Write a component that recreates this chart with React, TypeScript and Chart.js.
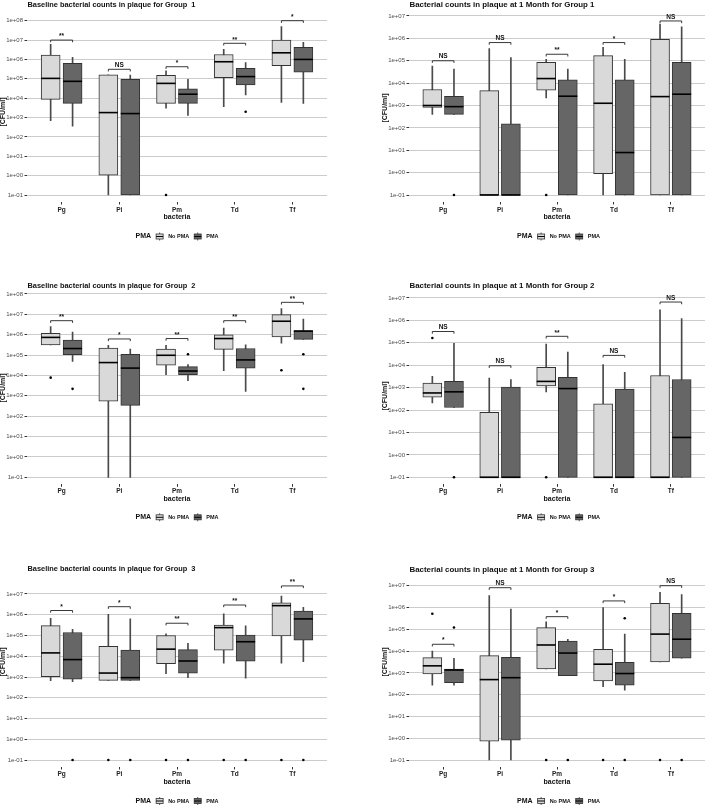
import { useEffect, useRef } from "react";
import { Chart, registerables } from "chart.js";

Chart.register(...registerables);

const FONT = '"Liberation Sans", Arial, Helvetica, sans-serif';

// ---------- shared labels ----------
const bacteria = ["Pg", "Pi", "Pm", "Td", "Tf"];
const groupLabels = ["No PMA", "PMA"];
const legendTitle = "PMA";
const xAxisTitle = "bacteria";
const yAxisTitle = "[CFU/ml]";
const ticksTo1e8 = ["1e-01", "1e+00", "1e+01", "1e+02", "1e+03", "1e+04", "1e+05", "1e+06", "1e+07", "1e+08"];
const ticksTo1e7 = ["1e-01", "1e+00", "1e+01", "1e+02", "1e+03", "1e+04", "1e+05", "1e+06", "1e+07"];

// ---------- data: [min, q1, median, q3, max] per bacterium ----------
// Group 1 baseline
const g1BaseNoPma = [
  [6.9e2, 8.7e3, 1.05e5, 1.7e6, 6.0e6],
  [0.1, 1.07, 1.8e3, 1.6e5, 1.6e5],
  [3.0e3, 5.4e3, 5.8e4, 1.5e5, 2.6e5],
  [3.6e3, 1.15e5, 7.6e5, 1.8e6, 3.3e6],
  [6.0e3, 4.8e5, 2.2e6, 1.0e7, 4.9e7],
];
const g1BasePma = [
  [3.6e2, 5.4e3, 7.4e4, 6.3e5, 1.3e6],
  [0.1, 0.1, 1.6e3, 9.3e4, 1.55e5],
  [1.3e3, 5.4e3, 1.6e4, 3.0e4, 9.3e4],
  [1.45e4, 4.8e4, 1.3e5, 3.5e5, 6.8e5],
  [5.4e3, 2.2e5, 1.0e6, 4.2e6, 7.6e6],
];
const g1BaseOutNoPma = [[2, 0.1]];
const g1BaseOutPma = [[3, 2.0e3]];
const g1BaseSig = ["**", "NS", "*", "**", "*"];
const g1BaseBracket = [1e7, 3.1e5, 4.2e5, 6.8e6, 1e8];

// Group 1 at 1 month
const g1MonthNoPma = [
  [4.0e2, 8.3e2, 1.0e3, 5.2e3, 5.8e4],
  [0.1, 0.1, 0.1, 4.6e3, 3.5e5],
  [2.2e3, 4.9e3, 1.6e4, 8.5e4, 1.15e5],
  [0.1, 0.89, 1.26e3, 1.7e5, 4.0e5],
  [0.1, 0.1, 2.5e3, 9.1e5, 4.4e6],
];
const g1MonthPma = [
  [4.0e2, 4.0e2, 8.9e2, 2.6e3, 4.2e4],
  [0.1, 0.1, 0.1, 1.5e2, 1.4e5],
  [0.1, 0.1, 2.6e3, 1.4e4, 4.2e4],
  [0.1, 0.1, 7.9, 1.4e4, 1.15e5],
  [0.1, 0.1, 3.2e3, 8.5e4, 3.3e6],
];
const g1MonthOutNoPma = [[2, 0.1]];
const g1MonthOutPma = [[0, 0.1]];
const g1MonthSig = ["NS", "NS", "**", "*", "NS"];
const g1MonthBracket = [1e5, 6.5e5, 1.95e5, 6.5e5, 6.0e6];

// Group 2 baseline
const g2BaseNoPma = [
  [3.2e5, 3.2e5, 7.4e5, 1.17e6, 2.5e6],
  [0.1, 5.4e2, 4.3e4, 2.2e5, 3.0e5],
  [1.1e4, 3.2e4, 9.8e4, 2.0e5, 3.0e5],
  [1.7e4, 1.9e5, 6.5e5, 1.0e6, 2.1e6],
  [3.8e5, 7.8e5, 4.6e6, 9.8e6, 1.9e7],
];
const g2BasePma = [
  [4.9e4, 1.05e5, 2.1e5, 5.5e5, 1.35e6],
  [0.1, 3.4e2, 2.3e4, 1.1e5, 2.0e5],
  [5.5e3, 1.1e4, 1.65e4, 2.7e4, 3.4e4],
  [1.65e3, 2.3e4, 5.8e4, 2.1e5, 3.2e5],
  [5.9e5, 5.9e5, 1.5e6, 1.6e6, 5.9e6],
];
const g2BaseOutNoPma = [[0, 7.8e3], [4, 1.8e4]];
const g2BaseOutPma = [[0, 2.2e3], [2, 1.1e5], [4, 1.1e5], [4, 2.2e3]];
const g2BaseSig = ["**", "*", "**", "**", "**"];
const g2BaseBracket = [4.9e6, 6.2e5, 6.5e5, 4.9e6, 3.9e7];

// Group 2 at 1 month
const g2MonthNoPma = [
  [2.1e2, 3.8e2, 5.8e2, 1.6e3, 3.2e3],
  [0.1, 0.1, 0.1, 79, 2.7e3],
  [6.5e2, 1.2e3, 1.9e3, 8.1e3, 8.9e4],
  [0.1, 0.1, 0.1, 1.9e2, 1.07e4],
  [0.1, 0.1, 0.1, 3.5e3, 3.0e6],
];
const g2MonthPma = [
  [1.3e2, 1.3e2, 6.5e2, 1.9e3, 9.5e4],
  [0.1, 0.1, 0.1, 1.07e3, 2.3e3],
  [0.1, 0.1, 9.1e2, 2.9e3, 3.9e4],
  [0.1, 0.1, 0.1, 8.7e2, 4.8e3],
  [0.1, 0.1, 6.0, 2.3e3, 1.2e6],
];
const g2MonthOutNoPma = [[0, 1.65e5], [2, 0.1]];
const g2MonthOutPma = [[0, 0.1]];
const g2MonthSig = ["NS", "NS", "**", "NS", "NS"];
const g2MonthBracket = [3.2e5, 9.5e3, 1.95e5, 2.75e4, 6.6e6];

// Group 3 baseline
const g3BaseNoPma = [
  [6.6e2, 1.05e3, 1.45e4, 3.0e5, 6.8e5],
  [6.9e2, 6.9e2, 1.55e3, 3.0e4, 1.05e6],
  [1.45e3, 4.4e3, 2.2e4, 1.0e5, 1.2e5],
  [4.7e3, 1.95e4, 2.4e5, 3.2e5, 1.1e6],
  [4.6e3, 9.5e4, 2.75e6, 3.8e6, 7.9e6],
];
const g3BasePma = [
  [6.0e2, 7.8e2, 6.9e3, 1.4e5, 2.0e5],
  [6.9e2, 6.9e2, 9.3e2, 2.0e4, 6.3e5],
  [9.3e2, 1.55e3, 5.9e3, 2.1e4, 4.2e4],
  [8.7e2, 5.8e3, 5.0e4, 1.05e5, 2.9e5],
  [5.5e3, 6.0e4, 6.3e5, 1.5e6, 2.3e6],
];
const g3BaseOutNoPma = [[1, 0.1], [2, 0.1], [3, 0.1], [4, 0.1]];
const g3BaseOutPma = [[0, 0.1], [1, 0.1], [2, 0.1], [3, 0.1], [4, 0.1]];
const g3BaseSig = ["*", "*", "**", "**", "**"];
const g3BaseBracket = [1.6e6, 2.45e6, 3.9e5, 2.95e6, 2.45e7];

// Group 3 at 1 month
const g3MonthNoPma = [
  [2.75e2, 8.9e2, 2.1e3, 5.0e3, 1.0e4],
  [0.1, 0.74, 4.9e2, 6.2e3, 3.5e6],
  [1.5e3, 1.5e3, 1.9e4, 1.2e5, 2.2e5],
  [2.3e2, 4.3e2, 2.5e3, 1.2e4, 9.8e5],
  [3.2e3, 3.2e3, 6.0e4, 1.55e6, 4.9e6],
];
const g3MonthPma = [
  [2.75e2, 3.5e2, 1.35e3, 1.5e3, 4.7e3],
  [0.1, 0.81, 6.0e2, 5.1e3, 8.5e5],
  [7.4e2, 7.4e2, 8.1e3, 2.9e4, 3.5e4],
  [1.6e2, 2.75e2, 9.3e2, 3.0e3, 6.0e4],
  [4.7e3, 4.7e3, 3.5e4, 5.4e5, 3.9e6],
];
const g3MonthOutNoPma = [[0, 5.2e5], [2, 0.1], [3, 0.1], [4, 0.1]];
const g3MonthOutPma = [[0, 1.2e5], [2, 0.1], [3, 3.2e5], [3, 0.1], [4, 0.1]];
const g3MonthSig = ["*", "NS", "*", "*", "NS"];
const g3MonthBracket = [2.05e4, 8.1e6, 3.8e5, 2.0e6, 1.0e7];

// ---------- panel layout (page pixels) ----------
type Layout = {
  left: number; top: number; width: number; height: number;
  plotLeft: number; plotRight: number; pxTop: number; pxBot: number;
  titleY: number; labelY: number; axisTitleY: number; legendY: number;
  yTitleX: number; yTitleY: number; titleSize: number;
};
type PanelDef = {
  title: string;
  noPma: number[][]; pma: number[][];
  outNoPma: number[][]; outPma: number[][];
  sig: string[]; bracket: number[]; ticks: string[];
  layout: Layout;
};

const L_ROW = (top: number, height: number, pxTop: number, pxBot: number, titleY: number, labelY: number, axisTitleY: number, legendY: number, yTitleY: number, right: boolean): Layout => ({
  left: right ? 355 : 0, top, width: right ? 354 : 352, height,
  plotLeft: right ? 409 : 27, plotRight: right ? 708 : 327,
  pxTop, pxBot, titleY, labelY, axisTitleY, legendY, yTitleY,
  yTitleX: right ? 385.5 : 3.5, titleSize: right ? 7.9 : 7.4,
});

const panels: PanelDef[] = [
  { title: "Baseline bacterial counts in plaque for Group  1", noPma: g1BaseNoPma, pma: g1BasePma, outNoPma: g1BaseOutNoPma, outPma: g1BaseOutPma, sig: g1BaseSig, bracket: g1BaseBracket, ticks: ticksTo1e8,
    layout: L_ROW(0, 262, 20.7, 195, 5, 210, 217.5, 236.5, 112, false) },
  { title: "Bacterial counts in plaque at 1 Month for Group 1", noPma: g1MonthNoPma, pma: g1MonthPma, outNoPma: g1MonthOutNoPma, outPma: g1MonthOutPma, sig: g1MonthSig, bracket: g1MonthBracket, ticks: ticksTo1e7,
    layout: L_ROW(0, 262, 16, 195, 5, 210, 217.5, 236.5, 108, true) },
  { title: "Baseline bacterial counts in plaque for Group  2", noPma: g2BaseNoPma, pma: g2BasePma, outNoPma: g2BaseOutNoPma, outPma: g2BaseOutPma, sig: g2BaseSig, bracket: g2BaseBracket, ticks: ticksTo1e8,
    layout: L_ROW(262, 268, 294, 477.3, 286, 491, 498.7, 517.3, 388, false) },
  { title: "Bacterial counts in plaque at 1 Month for Group 2", noPma: g2MonthNoPma, pma: g2MonthPma, outNoPma: g2MonthOutNoPma, outPma: g2MonthOutPma, sig: g2MonthSig, bracket: g2MonthBracket, ticks: ticksTo1e7,
    layout: L_ROW(262, 268, 298, 477.3, 286, 491, 498.7, 517.3, 396, true) },
  { title: "Baseline bacterial counts in plaque for Group  3", noPma: g3BaseNoPma, pma: g3BasePma, outNoPma: g3BaseOutNoPma, outPma: g3BaseOutPma, sig: g3BaseSig, bracket: g3BaseBracket, ticks: ticksTo1e7,
    layout: L_ROW(530, 276, 594, 760, 568.5, 774.3, 782.3, 801, 662, false) },
  { title: "Bacterial counts in plaque at 1 Month for Group 3", noPma: g3MonthNoPma, pma: g3MonthPma, outNoPma: g3MonthOutNoPma, outPma: g3MonthOutPma, sig: g3MonthSig, bracket: g3MonthBracket, ticks: ticksTo1e7,
    layout: L_ROW(530, 276, 585.7, 760, 569.5, 774.3, 782.3, 801, 662, true) },
];

const NO_PMA_FILL = "#d9d9d9";
const PMA_FILL = "#666666";
const EDGE = "#333333";
const DODGE = 0.19;
const BOX_W = 19;

function drawLegendIcon(ctx: CanvasRenderingContext2D, cx: number, cy: number, fill: string) {
  ctx.save();
  ctx.strokeStyle = EDGE;
  ctx.lineWidth = 0.8;
  ctx.beginPath();
  ctx.moveTo(cx, cy - 4);
  ctx.lineTo(cx, cy + 4);
  ctx.stroke();
  ctx.fillStyle = fill;
  ctx.fillRect(cx - 3.5, cy - 2.5, 7, 5);
  ctx.strokeRect(cx - 3.5, cy - 2.5, 7, 5);
  ctx.lineWidth = 1;
  ctx.strokeStyle = "#000";
  ctx.beginPath();
  ctx.moveTo(cx - 3.5, cy);
  ctx.lineTo(cx + 3.5, cy);
  ctx.stroke();
  ctx.restore();
}

function BoxPanel({ p }: { p: PanelDef }) {
  const ref = useRef<HTMLCanvasElement | null>(null);
  useEffect(() => {
    if (!ref.current) return;
    const L = p.layout;
    const tickVals = p.ticks.map(Number);
    const topExp = p.ticks.length - 2;
    const ppd = (L.pxBot - L.pxTop) / (topExp + 1);
    const plotTop = L.pxTop - 8.5 - L.top;
    const plotBottom = L.pxBot + 7 - L.top;
    const yMin = Math.pow(10, -1 - 7 / ppd);
    const yMax = Math.pow(10, topExp + 8.5 / ppd);
    const xAxisH = L.axisTitleY - L.top + 3.5 - plotBottom;
    const padBottom = L.height - plotBottom - xAxisH;
    const plotLeft = L.plotLeft - L.left;
    const plotRight = L.plotRight - L.left;
    const tickLen = 2.5;
    const xLabelPad = L.labelY - L.top - plotBottom - tickLen - 3.25;

    const whiskers: any[] = [];
    p.noPma.forEach((s, i) => whiskers.push({ x: i - DODGE, y: [s[0], s[4]] }));
    p.pma.forEach((s, i) => whiskers.push({ x: i + DODGE, y: [s[0], s[4]] }));
    const outliers: any[] = [];
    p.outNoPma.forEach(([i, v]) => outliers.push({ x: i - DODGE, y: v }));
    p.outPma.forEach(([i, v]) => outliers.push({ x: i + DODGE, y: v }));

    const extras = {
      id: "boxExtras",
      afterDatasetsDraw(chart: any) {
        const ctx: CanvasRenderingContext2D = chart.ctx;
        const ys = chart.scales.y;
        const m1 = chart.getDatasetMeta(1).data;
        const m2 = chart.getDatasetMeta(2).data;
        ctx.save();
        // medians
        ctx.strokeStyle = "#000";
        ctx.lineWidth = 1.6;
        [[m1, p.noPma], [m2, p.pma]].forEach(([meta, src]: any) => {
          meta.forEach((el: any, i: number) => {
            const yy = ys.getPixelForValue(src[i][2]);
            ctx.beginPath();
            ctx.moveTo(el.x - el.width / 2, yy);
            ctx.lineTo(el.x + el.width / 2, yy);
            ctx.stroke();
          });
        });
        // significance brackets
        ctx.strokeStyle = "#222";
        ctx.lineWidth = 0.9;
        ctx.fillStyle = "#111";
        ctx.textAlign = "center";
        ctx.textBaseline = "middle";
        ctx.font = `bold 6.5px ${FONT}`;
        p.sig.forEach((s, i) => {
          const x1 = m1[i].x;
          const x2 = m2[i].x;
          const yy = ys.getPixelForValue(p.bracket[i]);
          ctx.beginPath();
          ctx.moveTo(x1, yy + 2.2);
          ctx.lineTo(x1, yy);
          ctx.lineTo(x2, yy);
          ctx.lineTo(x2, yy + 2.2);
          ctx.stroke();
          ctx.fillText(s, (x1 + x2) / 2, yy - (s === "NS" ? 4.2 : 3.6));
        });
        ctx.restore();
      },
      afterDraw(chart: any) {
        const ctx: CanvasRenderingContext2D = chart.ctx;
        ctx.save();
        // title
        ctx.fillStyle = "#111";
        ctx.textAlign = "left";
        ctx.textBaseline = "middle";
        ctx.font = `bold ${L.titleSize}px ${FONT}`;
        ctx.fillText(p.title, plotLeft + 0.5, L.titleY - L.top);
        // y axis title
        ctx.save();
        ctx.translate(L.yTitleX - L.left, L.yTitleY - L.top);
        ctx.rotate(-Math.PI / 2);
        ctx.textAlign = "center";
        ctx.font = `bold 7px ${FONT}`;
        ctx.fillText(yAxisTitle, 0, 0);
        ctx.restore();
        // legend
        const ly = L.legendY - L.top;
        const f1 = `bold 7px ${FONT}`;
        const f2 = `bold 5.5px ${FONT}`;
        ctx.textAlign = "left";
        ctx.font = f1;
        const w0 = ctx.measureText(legendTitle).width;
        ctx.font = f2;
        const w1 = ctx.measureText(groupLabels[0]).width;
        const w2 = ctx.measureText(groupLabels[1]).width;
        const gap = 5;
        const icon = 7;
        const total = w0 + gap + icon + gap + w1 + gap + icon + gap + w2;
        let x = (plotLeft + plotRight) / 2 - total / 2;
        ctx.font = f1;
        ctx.fillText(legendTitle, x, ly);
        x += w0 + gap;
        drawLegendIcon(ctx, x + icon / 2, ly, NO_PMA_FILL);
        x += icon + gap;
        ctx.font = f2;
        ctx.fillStyle = "#111";
        ctx.fillText(groupLabels[0], x, ly);
        x += w1 + gap;
        drawLegendIcon(ctx, x + icon / 2, ly, PMA_FILL);
        x += icon + gap;
        ctx.font = f2;
        ctx.fillStyle = "#111";
        ctx.fillText(groupLabels[1], x, ly);
        ctx.restore();
      },
    };

    const chart = new Chart(ref.current, {
      type: "bar",
      data: {
        datasets: [
          { type: "bar", label: "whiskers", data: whiskers, backgroundColor: "#4a4a4a", borderWidth: 0, barThickness: 1, grouped: false, order: 3 } as any,
          { type: "bar", label: groupLabels[0], data: p.noPma.map((s, i) => ({ x: i - DODGE, y: [s[1], s[3]] })), backgroundColor: NO_PMA_FILL, borderColor: EDGE, borderWidth: 1, borderSkipped: false, barThickness: BOX_W, grouped: false, order: 2 } as any,
          { type: "bar", label: groupLabels[1], data: p.pma.map((s, i) => ({ x: i + DODGE, y: [s[1], s[3]] })), backgroundColor: PMA_FILL, borderColor: EDGE, borderWidth: 1, borderSkipped: false, barThickness: BOX_W, grouped: false, order: 1 } as any,
          { type: "scatter", label: "outliers", data: outliers, pointRadius: 1.3, backgroundColor: "#000", borderWidth: 0, order: 0 } as any,
        ],
      },
      options: {
        animation: false,
        responsive: false,
        events: [],
        layout: { padding: { left: 0, right: L.width - plotRight, top: plotTop, bottom: padBottom } },
        plugins: { legend: { display: false }, tooltip: { enabled: false }, title: { display: false } },
        scales: {
          x: {
            type: "linear",
            min: -0.6,
            max: 4.6,
            offset: false,
            afterBuildTicks: (s: any) => { s.ticks = bacteria.map((_, i) => ({ value: i })); },
            afterFit: (s: any) => { s.height = xAxisH; },
            ticks: { callback: (_v: any, i: number) => bacteria[i], font: { family: FONT, size: 6.5, weight: "bold", lineHeight: 1 }, color: "#222", padding: xLabelPad, autoSkip: false, maxRotation: 0 },
            grid: { drawOnChartArea: false, tickColor: "#333", tickLength: tickLen, offset: false },
            border: { display: false },
            title: { display: true, text: xAxisTitle, font: { family: FONT, size: 7, weight: "bold", lineHeight: 1 }, color: "#111", padding: 0 },
          } as any,
          y: {
            type: "logarithmic",
            min: yMin,
            max: yMax,
            afterBuildTicks: (s: any) => { s.ticks = tickVals.map((v) => ({ value: v })); },
            afterFit: (s: any) => { s.width = plotLeft; },
            ticks: { callback: (_v: any, i: number) => p.ticks[i], font: { family: FONT, size: 6 }, color: "#4d4d4d", padding: 1.5, autoSkip: false },
            grid: { color: "#cccccc", lineWidth: 1, tickColor: "#333", tickLength: tickLen },
            border: { display: false },
            title: { display: false },
          } as any,
        },
      },
      plugins: [extras],
    });
    return () => chart.destroy();
  }, [p]);
  const L = p.layout;
  return (
    <canvas
      ref={ref}
      width={L.width}
      height={L.height}
      style={{ position: "absolute", left: L.left, top: L.top, width: L.width, height: L.height }}
    />
  );
}

export default function App() {
  return (
    <div style={{ position: "absolute", left: 0, top: 0, width: 709, height: 806, background: "#fff" }}>
      {panels.map((p, i) => (
        <BoxPanel key={i} p={p} />
      ))}
    </div>
  );
}
